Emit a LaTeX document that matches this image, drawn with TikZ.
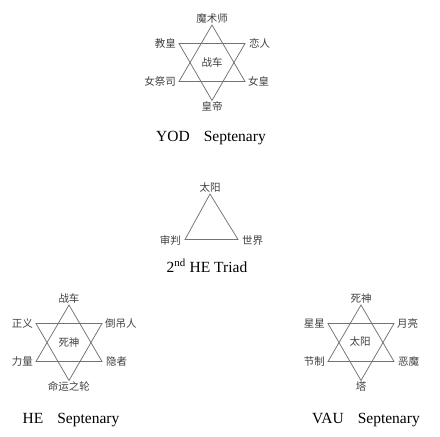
\documentclass[tikz,border=0pt]{standalone}
\usepackage{fontspec}
\usetikzlibrary{calc}
\setmainfont{Liberation Serif}
\newfontfamily\cjk{Noto Sans CJK SC}
\newcommand\tarotstar[3]{%
  \coordinate (#1-a) at (#2,#3);
  \coordinate (#1-b) at (#2-33,#3+56.5);
  \coordinate (#1-c) at (#2+33,#3+56.5);
  \coordinate (#1-d) at (#2-33,#3+18.5);
  \coordinate (#1-e) at (#2+33,#3+18.5);
  \coordinate (#1-f) at (#2,#3+75.5);
  \draw[edge] (#1-a) -- (#1-b) -- (#1-c) -- cycle;
  \draw[edge] (#1-d) -- (#1-e) -- (#1-f) -- cycle;
}
\begin{document}
\begin{tikzpicture}[x=1pt,y=-1pt,
  edge/.style={draw=black!55, line width=0.75pt},
  lab/.style={font=\cjk\fontsize{10.5}{11}\selectfont, inner sep=1pt, text=black!75},
  title/.style={font=\fontsize{15.5}{16}\selectfont, anchor=base, inner sep=0pt}]
\useasboundingbox[fill=white] (0,0) rectangle (440,437);

% YOD septenary
\tarotstar{y}{212}{25}
\node[lab, above=0pt] (y1) at (y-a) {魔术师};
\node[lab, anchor=east] (y2) at ($(y-d)+(-2,0)$) {教皇};
\node[lab, anchor=west] (y3) at ($(y-e)+(3,0)$) {恋人};
\node[lab, anchor=east] (y4) at ($(y-b)+(-2,0)$) {女祭司};
\node[lab, anchor=west] (y5) at ($(y-c)+(2,0)$) {女皇};
\node[lab, below=0pt] (y6) at (y-f) {皇帝};
\node[lab] (y7) at (212,62) {战车};
\node[title] (yt) at (211,141) {YOD\hspace{14pt}Septenary};

% 2nd HE triad
\coordinate (t-a) at (210,194);
\coordinate (t-b) at (185,239.5);
\coordinate (t-c) at (238,239.5);
\draw[edge] (t-a) -- (t-b) -- (t-c) -- cycle;
\node[lab, above=0pt] (t1) at (t-a) {太阳};
\node[lab, anchor=east] (t2) at ($(t-b)+(-3,1)$) {审判};
\node[lab, anchor=west] (t3) at ($(t-c)+(3,1)$) {世界};
\node[title] (tt) at (207,272) {2\textsuperscript{nd} HE Triad};

% HE septenary
\tarotstar{h}{69}{305}
\node[lab, above=0pt] (h1) at (h-a) {战车};
\node[lab, anchor=east] (h2) at ($(h-d)+(-2,0)$) {正义};
\node[lab, anchor=west] (h3) at ($(h-e)+(2,0)$) {倒吊人};
\node[lab, anchor=east] (h4) at ($(h-b)+(-2,0)$) {力量};
\node[lab, anchor=west] (h5) at ($(h-c)+(3,0)$) {隐者};
\node[lab, below=0pt] (h6) at (h-f) {命运之轮};
\node[lab] (h7) at (69,343) {死神};
\node[title] (ht) at (71,423) {HE\hspace{14pt}Septenary};

% VAU septenary
\tarotstar{v}{361}{305}
\node[lab, above=0pt] (v1) at (v-a) {死神};
\node[lab, anchor=east] (v2) at ($(v-d)+(-2,0)$) {星星};
\node[lab, anchor=west] (v3) at ($(v-e)+(2,0)$) {月亮};
\node[lab, anchor=east] (v4) at ($(v-b)+(-2,0)$) {节制};
\node[lab, anchor=west] (v5) at ($(v-c)+(3,0)$) {恶魔};
\node[lab, below=0pt] (v6) at (v-f) {塔};
\node[lab] (v7) at (360,342) {太阳};
\node[title] (vt) at (366,423) {VAU\hspace{14pt}Septenary};
\end{tikzpicture}
\end{document}
